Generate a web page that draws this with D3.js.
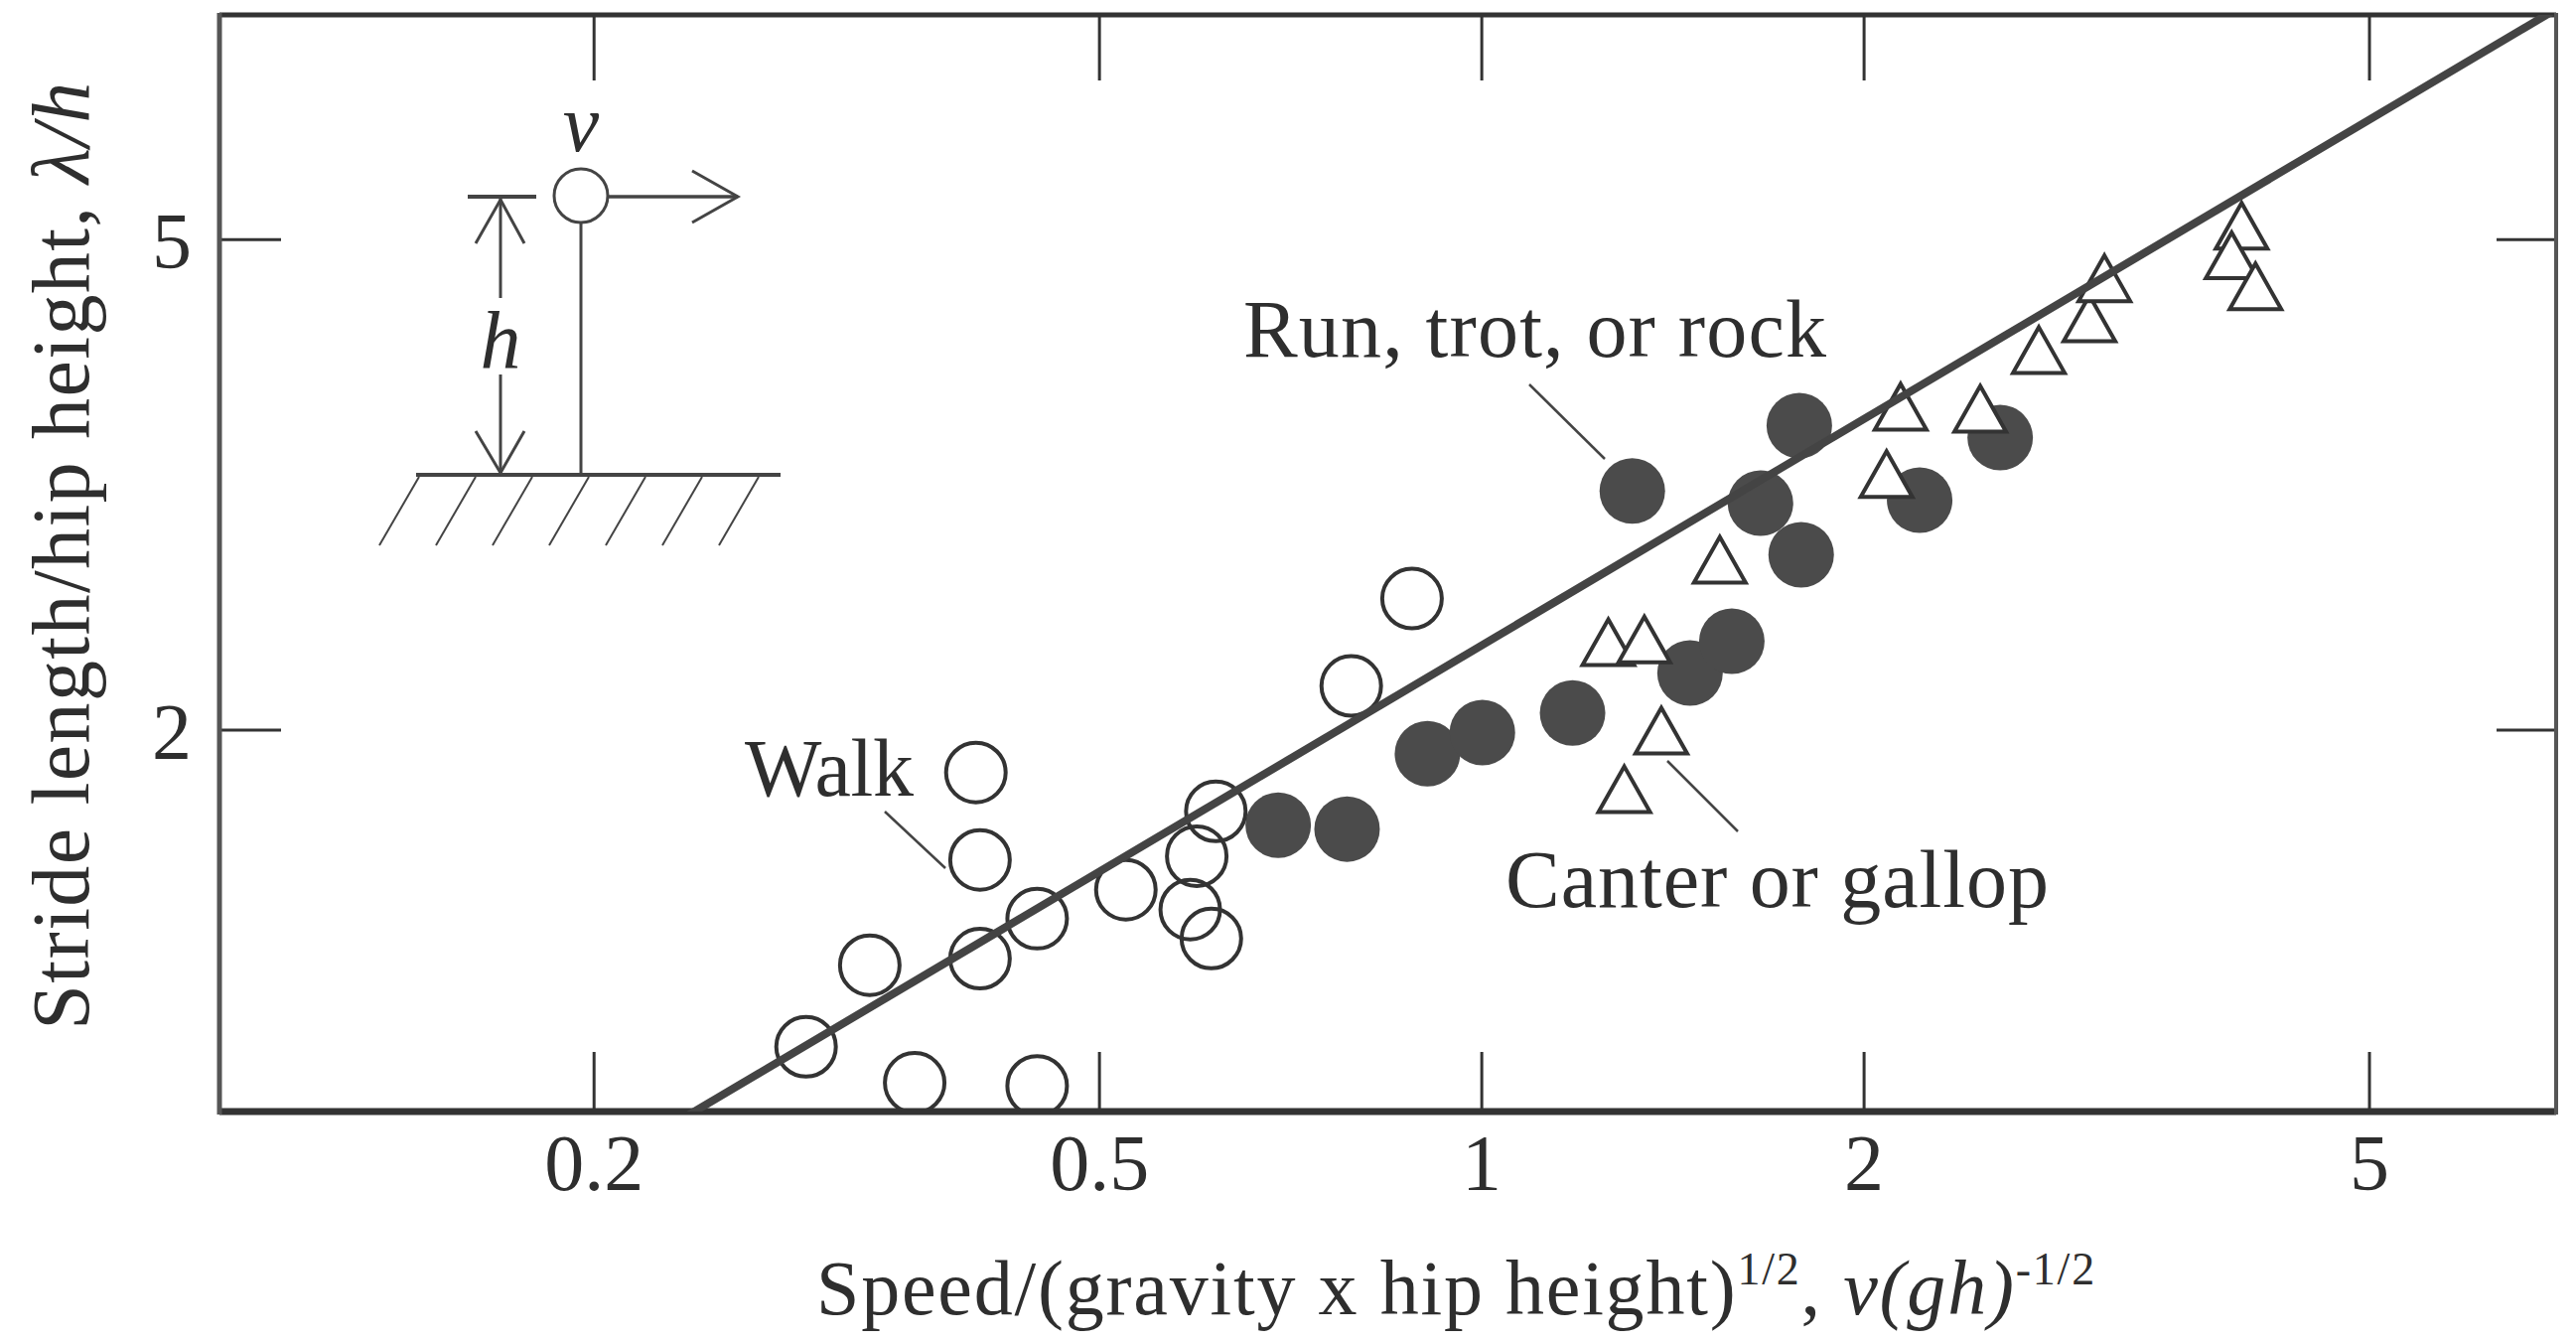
<!DOCTYPE html>
<html>
<head>
<meta charset="utf-8">
<script src="https://cdn.jsdelivr.net/npm/d3@7"></script>
<style>
  html, body { margin: 0; padding: 0; background: #ffffff; }
  svg { display: block; }
  text { font-family: "Liberation Serif", "DejaVu Serif", serif; fill: #2e2e2e; }
</style>
</head>
<body>
<svg id="chart" width="2594" height="1351"></svg>
<script>
// ---------- data ----------
const xTicks = [0.2, 0.5, 1, 2, 5];
const xTickLabels = ["0.2", "0.5", "1", "2", "5"];
const yTicks = [2, 5];
const yTickLabels = ["2", "5"];

// Walk (open circles)
const walkX = [0.400, 0.403, 0.330, 0.294, 0.403, 0.447, 0.358, 0.447, 0.525, 0.597, 0.590, 0.613, 0.618, 0.882, 0.790];
const walkY = [1.846, 1.568, 1.288, 1.106, 1.304, 1.405, 1.034, 1.028, 1.483, 1.579, 1.429, 1.354, 1.717, 2.555, 2.170];

// Run, trot, or rock (filled circles)
const runX = [1.315, 0.692, 0.784, 0.907, 1.002, 1.180, 1.460, 1.575, 1.780, 1.659, 1.786, 2.214, 2.562];
const runY = [3.123, 1.673, 1.661, 1.912, 1.989, 2.063, 2.223, 2.359, 3.529, 3.053, 2.773, 3.070, 3.451];

// Canter or gallop (open triangles)
const gallopX = [1.541, 1.259, 1.344, 1.386, 1.296, 2.139, 2.085, 2.471, 2.748, 3.012, 3.095, 3.969, 3.898, 4.070];
const gallopY = [2.747, 2.355, 2.367, 1.996, 1.789, 3.656, 3.223, 3.642, 4.064, 4.312, 4.647, 5.126, 4.850, 4.577];

// fitted power law: lambda/h = a * (v/sqrt(gh))^b
const fitA = 2.34;
const fitB = 0.61;

// ---------- layout ----------
const W = 2594, H = 1351;
const plot = { left: 221, right: 2574, top: 15, bottom: 1119 };
const ink = "#333333";

const svg = d3.select("#chart");
svg.append("rect").attr("width", W).attr("height", H).attr("fill", "#ffffff");

const x = d3.scaleLog().domain([0.1015, 7.02]).range([plot.left, plot.right]);
const y = d3.scaleLog().domain([0.98, 7.6]).range([plot.bottom, plot.top]);

svg.append("clipPath").attr("id", "plotclip")
  .append("rect")
  .attr("x", plot.left).attr("y", plot.top)
  .attr("width", plot.right - plot.left).attr("height", plot.bottom - plot.top);

// ---------- axes (inward ticks on all four sides) ----------
const tickFmt = (d) => xTickLabels[xTicks.indexOf(d)];
const ytickFmt = (d) => yTickLabels[yTicks.indexOf(d)];

const gB = svg.append("g").attr("transform", `translate(0,${plot.bottom})`)
  .call(d3.axisBottom(x).tickValues(xTicks).tickFormat(tickFmt).tickSizeInner(-60).tickSizeOuter(0).tickPadding(22));
const gT = svg.append("g").attr("transform", `translate(0,${plot.top})`)
  .call(d3.axisTop(x).tickValues(xTicks).tickFormat("").tickSizeInner(-66).tickSizeOuter(0));
const gL = svg.append("g").attr("transform", `translate(${plot.left},0)`)
  .call(d3.axisLeft(y).tickValues(yTicks).tickFormat(ytickFmt).tickSizeInner(-62).tickSizeOuter(0).tickPadding(28));
const gR = svg.append("g").attr("transform", `translate(${plot.right},0)`)
  .call(d3.axisRight(y).tickValues(yTicks).tickFormat("").tickSizeInner(-60).tickSizeOuter(0));

[gB, gT, gL, gR].forEach(g => {
  g.select(".domain").remove();
  g.selectAll(".tick line").attr("stroke", ink).attr("stroke-width", 3);
  g.selectAll(".tick text")
    .attr("fill", "#2e2e2e")
    .style("font-family", '"Liberation Serif", serif')
    .style("font-size", "80px");
});
gL.selectAll(".tick text").attr("dy", "0.36em");

// frame
svg.append("line").attr("x1", plot.left).attr("x2", plot.right).attr("y1", plot.top).attr("y2", plot.top)
  .attr("stroke", ink).attr("stroke-width", 5);
svg.append("line").attr("x1", plot.left).attr("x2", plot.right).attr("y1", plot.bottom).attr("y2", plot.bottom)
  .attr("stroke", ink).attr("stroke-width", 7);
svg.append("line").attr("x1", plot.left).attr("x2", plot.left).attr("y1", plot.top - 2).attr("y2", plot.bottom + 3)
  .attr("stroke", "#555").attr("stroke-width", 5);
svg.append("line").attr("x1", plot.right).attr("x2", plot.right).attr("y1", plot.top - 2).attr("y2", plot.bottom + 3)
  .attr("stroke", "#555").attr("stroke-width", 4);

// ---------- data marks ----------
const marks = svg.append("g").attr("clip-path", "url(#plotclip)");

const runData = runX.map((v, i) => ({ x: v, y: runY[i] }));
const walkData = walkX.map((v, i) => ({ x: v, y: walkY[i] }));
const gallopData = gallopX.map((v, i) => ({ x: v, y: gallopY[i] }));

marks.append("g").selectAll("circle").data(runData).join("circle")
  .attr("cx", d => x(d.x)).attr("cy", d => y(d.y)).attr("r", 33)
  .attr("fill", "#4b4b4b");

const tri = "M0,-23 L26,23 L-26,23 Z";
marks.append("g").selectAll("path").data(gallopData).join("path")
  .attr("d", tri)
  .attr("transform", d => `translate(${x(d.x)},${y(d.y)})`)
  .attr("fill", "#ffffff").attr("stroke", "#333").attr("stroke-width", 4)
  .attr("stroke-linejoin", "miter");

marks.append("g").selectAll("circle").data(walkData).join("circle")
  .attr("cx", d => x(d.x)).attr("cy", d => y(d.y)).attr("r", 30)
  .attr("fill", "none").attr("stroke", "#333").attr("stroke-width", 4);

// fitted line
const fitPts = x.domain().map(v => ({ x: v, y: fitA * Math.pow(v, fitB) }));
marks.append("path")
  .attr("d", d3.line().x(d => x(d.x)).y(d => y(d.y))(fitPts))
  .attr("fill", "none").attr("stroke", "#444").attr("stroke-width", 8);

// ---------- annotations ----------
function fitWidth(sel, target) {
  const n = sel.text().length;
  const w = sel.node().getComputedTextLength();
  if (n > 1) sel.attr("letter-spacing", ((target - w) / (n - 1)).toFixed(2));
}
function label(txt, x0, base, size, target) {
  const t = svg.append("text").attr("x", x0).attr("y", base)
    .style("font-size", size + "px").text(txt);
  fitWidth(t, target);
  return t;
}
label("Walk", 750, 801, 82, 170);
label("Run, trot, or rock", 1252, 359, 82, 587);
label("Canter or gallop", 1516, 913, 82, 547);

const leader = [
  [891, 817, 952, 874],
  [1540, 387, 1616, 462],
  [1679, 766, 1750, 837]
];
svg.append("g").selectAll("line").data(leader).join("line")
  .attr("x1", d => d[0]).attr("y1", d => d[1]).attr("x2", d => d[2]).attr("y2", d => d[3])
  .attr("stroke", "#444").attr("stroke-width", 2.5);

// ---------- inset diagram ----------
const ins = svg.append("g").attr("stroke", "#444").attr("fill", "none").attr("stroke-linecap", "butt");
ins.append("circle").attr("cx", 585).attr("cy", 197).attr("r", 27).attr("stroke-width", 3);
ins.append("line").attr("x1", 612).attr("y1", 198).attr("x2", 743).attr("y2", 198).attr("stroke-width", 3.5);
ins.append("polyline").attr("points", "697,172 743,198 697,224").attr("stroke-width", 3);
ins.append("line").attr("x1", 585).attr("y1", 224).attr("x2", 585).attr("y2", 478).attr("stroke-width", 3);
ins.append("line").attr("x1", 419).attr("y1", 478).attr("x2", 786).attr("y2", 478).attr("stroke-width", 4);
d3.range(7).forEach(i => {
  const xt = 422 + 57 * i;
  ins.append("line").attr("x1", xt).attr("y1", 480).attr("x2", xt - 40).attr("y2", 549).attr("stroke-width", 2);
});
ins.append("line").attr("x1", 471).attr("y1", 198).attr("x2", 540).attr("y2", 198).attr("stroke-width", 4);
ins.append("line").attr("x1", 504).attr("y1", 200).attr("x2", 504).attr("y2", 300).attr("stroke-width", 3);
ins.append("line").attr("x1", 504).attr("y1", 377).attr("x2", 504).attr("y2", 476).attr("stroke-width", 3);
ins.append("polyline").attr("points", "479,245 504,201 528,245").attr("stroke-width", 3);
ins.append("polyline").attr("points", "479,434 504,476 528,434").attr("stroke-width", 3);
svg.append("text").attr("x", 585).attr("y", 152).attr("text-anchor", "middle")
  .style("font-size", "82px").style("font-style", "italic").text("v");
svg.append("text").attr("x", 504).attr("y", 370).attr("text-anchor", "middle")
  .style("font-size", "82px").style("font-style", "italic").text("h");

// ---------- axis titles ----------
const xt = svg.append("text").attr("x", 822).attr("y", 1323).style("font-size", "78px");
xt.append("tspan").text("Speed/(gravity x hip height)");
xt.append("tspan").attr("dy", -30).style("font-size", "46px").text("1/2");
xt.append("tspan").attr("dy", 30).text(", ");
xt.append("tspan").style("font-style", "italic").text("v(gh)");
xt.append("tspan").attr("dy", -30).style("font-size", "46px").text("-1/2");
fitWidth(xt, 1287);

const yt = svg.append("text").attr("transform", "translate(89,559) rotate(-90)")
  .attr("text-anchor", "middle").style("font-size", "82px");
yt.append("tspan").text("Stride length/hip height, ");
yt.append("tspan").style("font-style", "italic").text("λ/h");
fitWidth(yt, 954);
</script>
</body>
</html>
